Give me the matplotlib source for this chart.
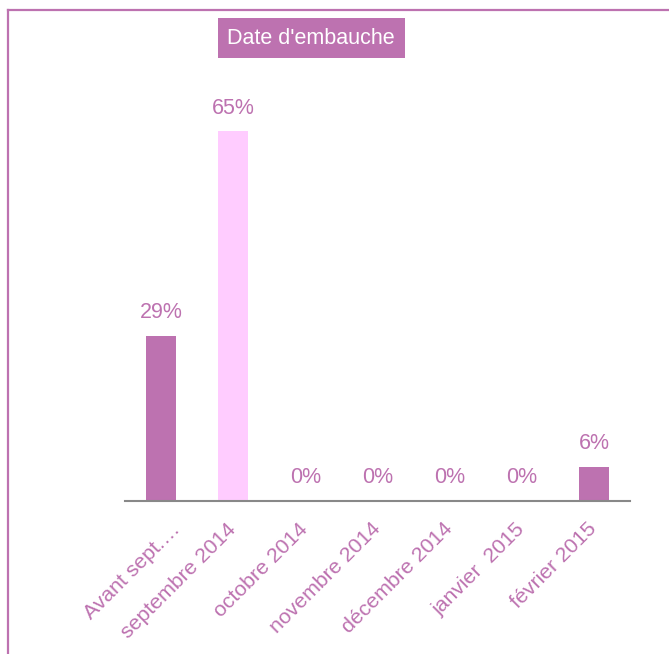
import matplotlib
matplotlib.use("Agg")
import matplotlib.pyplot as plt
from matplotlib.lines import Line2D
from matplotlib.transforms import ScaledTranslation

categories = ["Avant sept.…", "septembre 2014", "octobre 2014", "novembre 2014",
              "décembre 2014", "janvier  2015", "février 2015"]
values = [29, 65, 0, 0, 0, 0, 6]
labels = ["29%", "65%", "0%", "0%", "0%", "0%", "6%"]
bar_colors = ["#BD72B0", "#FFCCFF", "#BD72B0", "#BD72B0", "#BD72B0", "#BD72B0", "#BD72B0"]
title = "Date d'embauche"

purple = "#BD72B0"
plt.rcParams['font.family'] = ['Liberation Sans', 'DejaVu Sans']

fig = plt.figure(figsize=(6.69, 6.54), dpi=100)
ax = fig.add_axes([125/669, 153/654, 505/669, 398/654])

x = list(range(len(categories)))
ax.bar(x, values, width=0.42, color=bar_colors)
ax.set_xlim(-0.5, len(categories) - 0.5)
ax.set_ylim(0, 70)

for xi, v, lab in zip(x, values, labels):
    ax.annotate(lab, (xi, v), xytext=(0, 12.8), textcoords="offset points",
                ha="center", va="baseline", color=purple, fontsize=15.5)

for s in ["top", "right", "left"]:
    ax.spines[s].set_visible(False)
ax.spines["bottom"].set_color("#888888")
ax.spines["bottom"].set_linewidth(1.5)
ax.set_yticks([])
ax.set_xticks(x)
ax.set_xticklabels(categories, rotation=45, ha="right", va="center",
                   rotation_mode="anchor", color=purple, fontsize=15.3)
ax.tick_params(axis="x", length=0, pad=18)
# the truncated first label sits further right in the original layout
first = ax.get_xticklabels()[0]
first.set_transform(first.get_transform() + ScaledTranslation(0.16, 0, fig.dpi_scale_trans))

fig.text(311/669, 1 - 38/654, title, ha="center", va="center", color="white",
         fontsize=15.5,
         bbox=dict(boxstyle="square,pad=0.45", facecolor=purple, edgecolor="none"))

# outer frame (top and left edges visible)
fig.add_artist(Line2D([8/669, 1.0], [1 - 9.5/654, 1 - 9.5/654], transform=fig.transFigure,
                      color=purple, lw=1.6))
fig.add_artist(Line2D([8/669, 8/669], [0, 1 - 9.5/654], transform=fig.transFigure,
                      color=purple, lw=1.6))

fig.savefig("out.png", dpi=100)
